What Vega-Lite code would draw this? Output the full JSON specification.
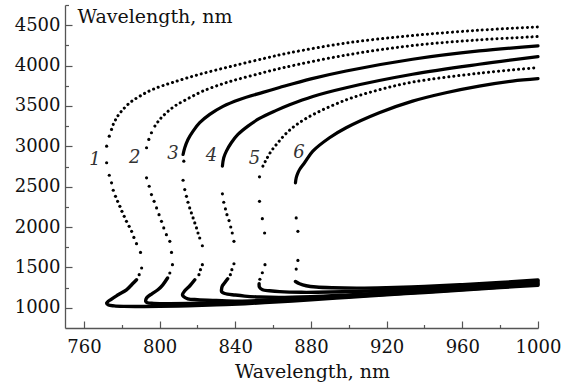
{
"$schema":"https://vega.github.io/schema/vega-lite/v6.json",
"width":473,"height":323,"autosize":"none",
"padding":{"left":65,"top":5,"right":37,"bottom":55},
"background":"white",
"config":{"view":{"stroke":null},
"axis":{"grid":false,"domainColor":"#555","domainWidth":1.3,"tickColor":"#555","tickWidth":1.2,"labelColor":"#111","labelFont":"DejaVu Serif","labelFontSize":18,"titleFont":"DejaVu Serif","titleFontSize":19,"titleFontWeight":"normal","titleColor":"#111","labelFlush":false,"labelOverlap":false,"format":"d"}},
"data":{"values":[
{"c":1,"p":"d","x":772,"y":2796},{"c":1,"p":"d","x":772,"y":3002},{"c":1,"p":"d","x":773.4,"y":3126},{"c":1,"p":"d","x":774.6,"y":3209},
{"c":1,"p":"d","x":773.4,"y":2642},{"c":1,"p":"d","x":774.6,"y":2548},{"c":1,"p":"d","x":775.5,"y":2456},{"c":1,"p":"d","x":776.7,"y":2381},{"c":1,"p":"d","x":777.8,"y":2319},{"c":1,"p":"d","x":779,"y":2257},{"c":1,"p":"d","x":780.1,"y":2195},{"c":1,"p":"d","x":781.3,"y":2133},{"c":1,"p":"d","x":782.5,"y":2071},{"c":1,"p":"d","x":783.9,"y":2009},{"c":1,"p":"d","x":785.2,"y":1947},{"c":1,"p":"d","x":786.4,"y":1872},{"c":1,"p":"d","x":787.8,"y":1794},{"c":1,"p":"d","x":789.9,"y":1686},{"c":1,"p":"d","x":790.5,"y":1493},{"c":1,"p":"d","x":789.2,"y":1410},
{"c":1,"p":"u","x":775.5,"y":3271},{"c":1,"p":"u","x":777.3,"y":3354},{"c":1,"p":"u","x":779.9,"y":3436},{"c":1,"p":"u","x":784.3,"y":3540},{"c":1,"p":"u","x":789.6,"y":3622},{"c":1,"p":"u","x":796.4,"y":3705},{"c":1,"p":"u","x":807,"y":3792},{"c":1,"p":"u","x":821.2,"y":3892},{"c":1,"p":"u","x":838.6,"y":3995},{"c":1,"p":"u","x":856.5,"y":4095},{"c":1,"p":"u","x":868.7,"y":4158},{"c":1,"p":"u","x":898.8,"y":4280},{"c":1,"p":"u","x":933.7,"y":4372},{"c":1,"p":"u","x":969.1,"y":4438},{"c":1,"p":"u","x":1000,"y":4478},
{"c":1,"p":"l","x":787.8,"y":1347},{"c":1,"p":"l","x":786.1,"y":1307},{"c":1,"p":"l","x":782.5,"y":1223},{"c":1,"p":"l","x":778.1,"y":1161},{"c":1,"p":"l","x":774.6,"y":1108},{"c":1,"p":"l","x":772,"y":1058},{"c":1,"p":"l","x":773,"y":1035},{"c":1,"p":"l","x":776,"y":1024},{"c":1,"p":"l","x":781,"y":1018},{"c":1,"p":"l","x":790,"y":1016},{"c":1,"p":"l","x":800,"y":1018},{"c":1,"p":"l","x":815,"y":1025},{"c":1,"p":"l","x":830,"y":1036},{"c":1,"p":"l","x":845,"y":1051},{"c":1,"p":"l","x":863,"y":1075},{"c":1,"p":"l","x":880,"y":1100},{"c":1,"p":"l","x":900,"y":1130},{"c":1,"p":"l","x":920,"y":1160},{"c":1,"p":"l","x":940,"y":1190},{"c":1,"p":"l","x":960,"y":1220},{"c":1,"p":"l","x":980,"y":1250},{"c":1,"p":"l","x":1000,"y":1280},
{"c":2,"p":"d","x":793.1,"y":2982},{"c":2,"p":"d","x":794.3,"y":3085},{"c":2,"p":"d","x":795.7,"y":3168},
{"c":2,"p":"d","x":793.1,"y":2610},{"c":2,"p":"d","x":794.5,"y":2505},{"c":2,"p":"d","x":795.7,"y":2402},{"c":2,"p":"d","x":797.1,"y":2319},{"c":2,"p":"d","x":798.4,"y":2237},{"c":2,"p":"d","x":799.7,"y":2154},{"c":2,"p":"d","x":801,"y":2071},{"c":2,"p":"d","x":802.2,"y":1989},{"c":2,"p":"d","x":803.6,"y":1906},{"c":2,"p":"d","x":805.4,"y":1823},{"c":2,"p":"d","x":806.3,"y":1686},{"c":2,"p":"d","x":806.8,"y":1534},{"c":2,"p":"d","x":805.4,"y":1431},
{"c":2,"p":"u","x":797.5,"y":3250},{"c":2,"p":"u","x":800.1,"y":3333},{"c":2,"p":"u","x":803.6,"y":3416},{"c":2,"p":"u","x":808,"y":3498},{"c":2,"p":"u","x":814.2,"y":3581},{"c":2,"p":"u","x":822.9,"y":3684},{"c":2,"p":"u","x":835.3,"y":3789},{"c":2,"p":"u","x":849.3,"y":3879},{"c":2,"p":"u","x":865.1,"y":3972},{"c":2,"p":"u","x":898.6,"y":4130},{"c":2,"p":"u","x":933.7,"y":4248},{"c":2,"p":"u","x":968.9,"y":4318},{"c":2,"p":"u","x":1000,"y":4359},
{"c":2,"p":"l","x":804.2,"y":1369},{"c":2,"p":"l","x":801.7,"y":1285},{"c":2,"p":"l","x":799.1,"y":1223},{"c":2,"p":"l","x":795.9,"y":1174},{"c":2,"p":"l","x":793.2,"y":1124},{"c":2,"p":"l","x":792.7,"y":1078},{"c":2,"p":"l","x":793.5,"y":1062},{"c":2,"p":"l","x":797,"y":1055},{"c":2,"p":"l","x":805,"y":1052},{"c":2,"p":"l","x":821,"y":1056},{"c":2,"p":"l","x":842,"y":1066},{"c":2,"p":"l","x":863,"y":1088},{"c":2,"p":"l","x":880,"y":1112},{"c":2,"p":"l","x":900,"y":1140},{"c":2,"p":"l","x":920,"y":1168},{"c":2,"p":"l","x":940,"y":1197},{"c":2,"p":"l","x":960,"y":1226},{"c":2,"p":"l","x":980,"y":1258},{"c":2,"p":"l","x":1000,"y":1293},
{"c":3,"p":"d","x":812.8,"y":2816},
{"c":3,"p":"d","x":812.4,"y":2580},{"c":3,"p":"d","x":813.3,"y":2464},{"c":3,"p":"d","x":814.2,"y":2381},{"c":3,"p":"d","x":815,"y":2307},{"c":3,"p":"d","x":815.9,"y":2237},{"c":3,"p":"d","x":816.8,"y":2175},{"c":3,"p":"d","x":817.7,"y":2113},{"c":3,"p":"d","x":818.6,"y":2051},{"c":3,"p":"d","x":819.5,"y":1989},{"c":3,"p":"d","x":820.3,"y":1927},{"c":3,"p":"d","x":821.2,"y":1865},{"c":3,"p":"d","x":822.6,"y":1769},{"c":3,"p":"d","x":822.6,"y":1534},{"c":3,"p":"d","x":821.6,"y":1472},{"c":3,"p":"d","x":820.8,"y":1410},
{"c":3,"p":"u","x":812.4,"y":2899},{"c":3,"p":"u","x":813.3,"y":2982},{"c":3,"p":"u","x":815,"y":3085},{"c":3,"p":"u","x":817.7,"y":3188},{"c":3,"p":"u","x":821.2,"y":3292},{"c":3,"p":"u","x":826.5,"y":3395},{"c":3,"p":"u","x":833.5,"y":3495},{"c":3,"p":"u","x":842.3,"y":3580},{"c":3,"p":"u","x":854.6,"y":3668},{"c":3,"p":"u","x":863.4,"y":3728},{"c":3,"p":"u","x":880,"y":3835},{"c":3,"p":"u","x":898.6,"y":3933},{"c":3,"p":"u","x":933.7,"y":4078},{"c":3,"p":"u","x":968.9,"y":4181},{"c":3,"p":"u","x":1000,"y":4243},
{"c":3,"p":"l","x":818.6,"y":1347},{"c":3,"p":"l","x":816,"y":1273},{"c":3,"p":"l","x":813.3,"y":1211},{"c":3,"p":"l","x":812.1,"y":1161},{"c":3,"p":"l","x":812.8,"y":1137},{"c":3,"p":"l","x":814.9,"y":1112},{"c":3,"p":"l","x":820,"y":1100},{"c":3,"p":"l","x":830,"y":1090},{"c":3,"p":"l","x":842,"y":1082},{"c":3,"p":"l","x":863,"y":1100},{"c":3,"p":"l","x":880,"y":1122},{"c":3,"p":"l","x":900,"y":1150},{"c":3,"p":"l","x":920,"y":1178},{"c":3,"p":"l","x":940,"y":1206},{"c":3,"p":"l","x":960,"y":1235},{"c":3,"p":"l","x":980,"y":1268},{"c":3,"p":"l","x":1000,"y":1306},
{"c":4,"p":"d","x":833.2,"y":2411},{"c":4,"p":"d","x":833.9,"y":2307},{"c":4,"p":"d","x":834.8,"y":2225},{"c":4,"p":"d","x":835.6,"y":2154},{"c":4,"p":"d","x":836.7,"y":2080},{"c":4,"p":"d","x":837.6,"y":2001},{"c":4,"p":"d","x":838.4,"y":1927},{"c":4,"p":"d","x":839.3,"y":1823},{"c":4,"p":"d","x":839.3,"y":1546},{"c":4,"p":"d","x":838.2,"y":1472},{"c":4,"p":"d","x":837.4,"y":1410},
{"c":4,"p":"u","x":833.2,"y":2754},{"c":4,"p":"u","x":833.9,"y":2858},{"c":4,"p":"u","x":835.3,"y":2940},{"c":4,"p":"u","x":837.9,"y":3044},{"c":4,"p":"u","x":841.4,"y":3147},{"c":4,"p":"u","x":846.7,"y":3250},{"c":4,"p":"u","x":852.8,"y":3345},{"c":4,"p":"u","x":861.7,"y":3445},{"c":4,"p":"u","x":868.7,"y":3515},{"c":4,"p":"u","x":881,"y":3618},{"c":4,"p":"u","x":898.6,"y":3726},{"c":4,"p":"u","x":933.7,"y":3892},{"c":4,"p":"u","x":968.9,"y":4016},{"c":4,"p":"u","x":1000,"y":4111},
{"c":4,"p":"l","x":836,"y":1360},{"c":4,"p":"l","x":834.4,"y":1310},{"c":4,"p":"l","x":833.2,"y":1273},{"c":4,"p":"l","x":832.7,"y":1223},{"c":4,"p":"l","x":832.8,"y":1199},{"c":4,"p":"l","x":834.4,"y":1177},{"c":4,"p":"l","x":840,"y":1158},{"c":4,"p":"l","x":845,"y":1145},{"c":4,"p":"l","x":853,"y":1133},{"c":4,"p":"l","x":863,"y":1127},{"c":4,"p":"l","x":880,"y":1137},{"c":4,"p":"l","x":900,"y":1160},{"c":4,"p":"l","x":920,"y":1186},{"c":4,"p":"l","x":940,"y":1213},{"c":4,"p":"l","x":960,"y":1242},{"c":4,"p":"l","x":980,"y":1276},{"c":4,"p":"l","x":1000,"y":1319},
{"c":5,"p":"d","x":852.8,"y":2622},{"c":5,"p":"d","x":852.8,"y":2319},{"c":5,"p":"d","x":854.3,"y":2104},{"c":5,"p":"d","x":855.5,"y":1927},{"c":5,"p":"d","x":855.7,"y":1534},{"c":5,"p":"d","x":854.3,"y":1434},{"c":5,"p":"d","x":853,"y":1354},
{"c":5,"p":"u","x":854.6,"y":2754},{"c":5,"p":"u","x":856.4,"y":2837},{"c":5,"p":"u","x":859,"y":2940},{"c":5,"p":"u","x":862.5,"y":3044},{"c":5,"p":"u","x":866.9,"y":3160},{"c":5,"p":"u","x":872.2,"y":3265},{"c":5,"p":"u","x":881,"y":3392},{"c":5,"p":"u","x":898.6,"y":3575},{"c":5,"p":"u","x":916.1,"y":3700},{"c":5,"p":"u","x":933.7,"y":3795},{"c":5,"p":"u","x":968.9,"y":3905},{"c":5,"p":"u","x":1000,"y":3975},
{"c":5,"p":"l","x":852.6,"y":1298},{"c":5,"p":"l","x":852.8,"y":1254},{"c":5,"p":"l","x":854.4,"y":1223},{"c":5,"p":"l","x":858.1,"y":1211},{"c":5,"p":"l","x":863.4,"y":1200},{"c":5,"p":"l","x":875,"y":1192},{"c":5,"p":"l","x":890,"y":1195},{"c":5,"p":"l","x":910,"y":1208},{"c":5,"p":"l","x":930,"y":1228},{"c":5,"p":"l","x":950,"y":1252},{"c":5,"p":"l","x":970,"y":1280},{"c":5,"p":"l","x":985,"y":1303},{"c":5,"p":"l","x":1000,"y":1332},
{"c":6,"p":"d","x":872.2,"y":2113},{"c":6,"p":"d","x":873.1,"y":1947},{"c":6,"p":"d","x":873.1,"y":1587},{"c":6,"p":"d","x":872.2,"y":1480},
{"c":6,"p":"u","x":871.8,"y":2548},{"c":6,"p":"u","x":872.2,"y":2610},{"c":6,"p":"u","x":873.1,"y":2672},{"c":6,"p":"u","x":874,"y":2713},{"c":6,"p":"u","x":876.6,"y":2796},{"c":6,"p":"u","x":881,"y":2940},{"c":6,"p":"u","x":889.8,"y":3106},{"c":6,"p":"u","x":898.6,"y":3230},{"c":6,"p":"u","x":916.1,"y":3416},{"c":6,"p":"u","x":933.7,"y":3560},{"c":6,"p":"u","x":951.3,"y":3664},{"c":6,"p":"u","x":968.9,"y":3746},{"c":6,"p":"u","x":986.4,"y":3808},{"c":6,"p":"u","x":1000,"y":3838},
{"c":6,"p":"l","x":871.8,"y":1326},{"c":6,"p":"l","x":874,"y":1298},{"c":6,"p":"l","x":877.5,"y":1273},{"c":6,"p":"l","x":882.8,"y":1257},{"c":6,"p":"l","x":891.5,"y":1248},{"c":6,"p":"l","x":905.6,"y":1244},{"c":6,"p":"l","x":920,"y":1250},{"c":6,"p":"l","x":940,"y":1265},{"c":6,"p":"l","x":960,"y":1287},{"c":6,"p":"l","x":980,"y":1313},{"c":6,"p":"l","x":1000,"y":1345}
]},
"resolve":{"axis":{"x":"independent","y":"independent"}},
"layer":[
{"transform":[{"filter":"datum.p=='l'"}],
 "mark":{"type":"line","interpolate":"catmull-rom","strokeWidth":3.4,"color":"#000","strokeCap":"round"},
 "encoding":{
  "x":{"field":"x","type":"quantitative","scale":{"domain":[750,1000],"nice":false,"zero":false},
   "axis":{"orient":"bottom","values":[760,800,840,880,920,960,1000],"format":"d","tickSize":-7,"labelPadding":17,"title":"Wavelength, nm","titleX":247,"titleY":49,"titleAlign":"center","titleBaseline":"alphabetic"}},
  "y":{"field":"y","type":"quantitative","scale":{"domain":[750,4750],"nice":false,"zero":false},
   "axis":{"orient":"left","values":[1000,1500,2000,2500,3000,3500,4000,4500],"format":"d","tickSize":-7,"labelPadding":12,"title":"Wavelength, nm","titleAngle":0,"titleX":12,"titleY":17,"titleAlign":"left","titleBaseline":"alphabetic"}},
  "detail":{"field":"c"},
  "order":{"value":null}}},
{"transform":[{"filter":"datum.p=='d'"}],
 "mark":{"type":"point","filled":true,"size":10,"color":"#000","opacity":1,"strokeWidth":0},
 "encoding":{
  "x":{"field":"x","type":"quantitative","scale":{"domain":[750,1000],"nice":false,"zero":false},
   "axis":{"orient":"bottom","values":[780,820,860,900,940,980],"tickSize":-3.5,"labels":false,"domain":false,"title":null}},
  "y":{"field":"y","type":"quantitative","scale":{"domain":[750,4750],"nice":false,"zero":false},
   "axis":{"orient":"left","values":[1250,1750,2250,2750,3250,3750,4250,4750],"tickSize":-3.5,"labels":false,"domain":false,"title":null}}}},
{"transform":[{"filter":"datum.p=='u' && (datum.c==3 || datum.c==4 || datum.c==6)"}],
 "mark":{"type":"line","interpolate":"catmull-rom","strokeWidth":3.2,"color":"#000","strokeCap":"round"},
 "encoding":{
  "x":{"field":"x","type":"quantitative","scale":{"domain":[750,1000],"nice":false,"zero":false},"axis":null},
  "y":{"field":"y","type":"quantitative","scale":{"domain":[750,4750],"nice":false,"zero":false},"axis":null},
  "detail":{"field":"c"},
  "order":{"value":null}}},
{"transform":[{"filter":"datum.p=='u' && (datum.c==1 || datum.c==2 || datum.c==5)"}],
 "mark":{"type":"line","interpolate":"catmull-rom","strokeWidth":3,"color":"#000","strokeCap":"round","strokeDash":[0.1,4.9]},
 "encoding":{
  "x":{"field":"x","type":"quantitative","scale":{"domain":[750,1000],"nice":false,"zero":false},"axis":null},
  "y":{"field":"y","type":"quantitative","scale":{"domain":[750,4750],"nice":false,"zero":false},"axis":null},
  "detail":{"field":"c"},
  "order":{"value":null}}},
{"data":{"values":[{"t":"1","x":765.8,"y":2827},{"t":"2","x":786.9,"y":2858},{"t":"3","x":807.1,"y":2899},{"t":"4","x":827.4,"y":2878},{"t":"5","x":850.2,"y":2845},{"t":"6","x":873.6,"y":2923}]},
 "mark":{"type":"text","font":"DejaVu Serif","fontStyle":"italic","fontSize":18,"color":"#333","align":"center","baseline":"middle"},
 "encoding":{
  "x":{"field":"x","type":"quantitative","scale":{"domain":[750,1000],"nice":false,"zero":false},"axis":null},
  "y":{"field":"y","type":"quantitative","scale":{"domain":[750,4750],"nice":false,"zero":false},"axis":null},
  "text":{"field":"t"}}}
]
}
